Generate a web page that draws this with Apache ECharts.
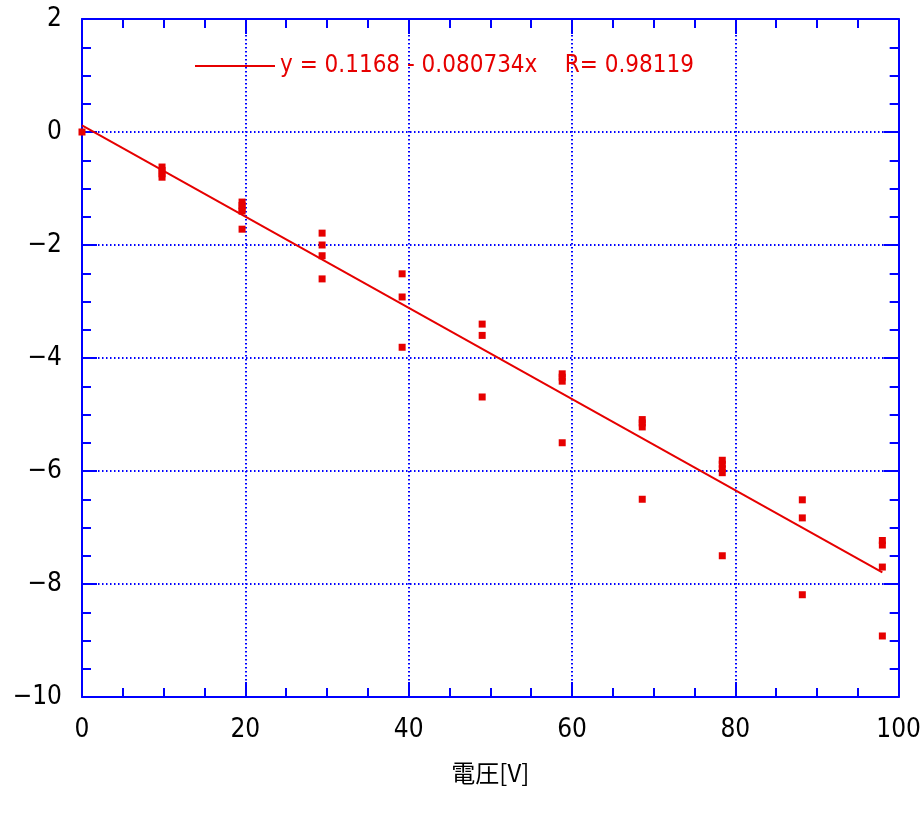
<!DOCTYPE html>
<html>
<head>
<meta charset="utf-8">
<script src="https://cdn.jsdelivr.net/npm/echarts@6/dist/echarts.min.js"></script>
<style>
  html, body { margin: 0; padding: 0; background: #fff; }
  #chart { width: 924px; height: 814px; }
</style>
</head>
<body>
<div id="chart"></div>
<script>
// Measured displacement against applied voltage
const voltages = [0, 9.8, 19.6, 29.4, 39.2, 49, 58.8, 68.6, 78.4, 88.2, 98];
const readings = [
  [0],
  [-0.62, -0.68, -0.74, -0.80],
  [-1.24, -1.30, -1.36, -1.40, -1.72],
  [-1.79, -2.00, -2.19, -2.60],
  [-2.51, -2.92, -3.81],
  [-3.40, -3.60, -4.69],
  [-4.28, -4.34, -4.41, -5.50],
  [-5.09, -5.15, -5.22, -6.50],
  [-5.81, -5.88, -5.96, -6.03, -7.50],
  [-6.51, -6.83, -8.19],
  [-7.23, -7.31, -7.70, -8.92]
];

// Least-squares fit as reported in the legend
const fitIntercept = 0.1168;
const fitSlope = -0.080734;
const fitR = 0.98119;
const fitRange = [0, 98];

const xTitle = '電圧[V]';

const points = [];
voltages.forEach((v, i) => readings[i].forEach(y => points.push([v, y])));
const fitLine = fitRange.map(x => [x, fitIntercept + fitSlope * x]);
const fitName = 'y = ' + fitIntercept + ' - ' + Math.abs(fitSlope) + 'x    R= ' + fitR;

const blue = '#0000ff';
const red = '#e60000';
const narrow = "'Liberation Sans Narrow', 'DejaVu Sans Condensed', 'Liberation Sans', sans-serif";
const tickText = v => String(v).replace('-', '\u2212');

function axisBase(extra) {
  return Object.assign({
    axisLine: { show: true, onZero: false, lineStyle: { color: blue, width: 2 } },
    axisTick: { show: true, inside: true, length: 15, lineStyle: { color: blue, width: 2 } },
    minorTick: { show: true, splitNumber: 4, length: 9, lineStyle: { color: blue, width: 2 } },
    splitLine: { show: false },
    axisLabel: { show: false }
  }, extra);
}

const gridDots = { color: blue, width: 2, type: [1.5, 2.5] };

const chart = echarts.init(document.getElementById('chart'), null, { renderer: 'canvas' });
chart.setOption({
  animation: false,
  backgroundColor: '#ffffff',
  grid: { left: 82, right: 21, top: 19, bottom: 117 },
  legend: {
    data: [fitName],
    left: 190,
    top: 49,
    icon: 'rect',
    itemWidth: 80,
    itemHeight: 2,
    itemGap: 6,
    textStyle: { color: red, fontFamily: narrow, fontSize: 24 }
  },
  xAxis: [
    axisBase({
      type: 'value', min: 0, max: 100, interval: 20, position: 'bottom',
      name: xTitle, nameLocation: 'middle', nameGap: 64,
      nameTextStyle: { fontFamily: "'Noto Sans CJK JP', sans-serif", fontSize: 24, color: '#000' },
      axisLabel: { show: true, color: '#000', fontFamily: narrow, fontSize: 26, margin: 20, formatter: tickText },
      splitLine: { show: true, lineStyle: gridDots }
    }),
    axisBase({ type: 'value', min: 0, max: 100, interval: 20, position: 'top' })
  ],
  yAxis: [
    axisBase({
      type: 'value', min: -10, max: 2, interval: 2, position: 'left',
      axisLabel: { show: true, color: '#000', fontFamily: narrow, fontSize: 26, margin: 20, formatter: tickText },
      splitLine: { show: true, lineStyle: gridDots }
    }),
    axisBase({ type: 'value', min: -10, max: 2, interval: 2, position: 'right' })
  ],
  series: [
    {
      name: fitName,
      type: 'line',
      data: fitLine,
      symbol: 'none',
      lineStyle: { color: red, width: 2 },
      itemStyle: { color: red },
      z: 3
    },
    {
      name: 'data',
      type: 'scatter',
      data: points,
      symbol: 'rect',
      symbolSize: 7,
      itemStyle: { color: red, opacity: 1 },
      z: 4
    }
  ]
});
</script>
</body>
</html>
